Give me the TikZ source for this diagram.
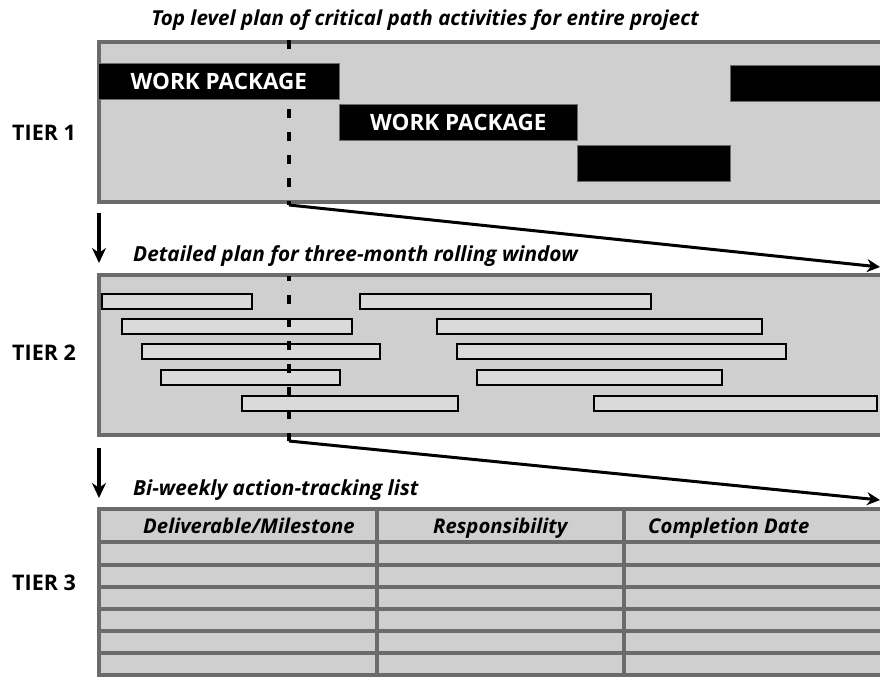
\documentclass[tikz,border=0pt]{standalone}
\usepackage{fontspec}
\setmainfont{Open Sans}
\usetikzlibrary{arrows.meta}
\definecolor{panel}{RGB}{207,207,207}
\definecolor{frame}{RGB}{107,107,107}
\definecolor{barfill}{RGB}{218,218,218}
\tikzset{
  panelbox/.style={fill=panel, draw=frame, line width=4pt},
  wp/.style={fill=black, draw=frame, line width=0.6pt},
  wptext/.style={text=white, font=\bfseries\fontsize{22.5}{22.5}\selectfont, inner sep=0pt},
  bar/.style={fill=barfill, draw=black, line width=2.6pt},
  tierlabel/.style={font=\bfseries\fontsize{21.5}{21.5}\selectfont, anchor=base west, inner sep=0pt},
  caption/.style={font=\bfseries\itshape\fontsize{20.8}{20.8}\selectfont, anchor=base west, inner sep=0pt},
  header/.style={font=\bfseries\itshape\fontsize{20.3}{20.3}\selectfont, anchor=base west, inner sep=0pt},
  cutline/.style={line width=4.5pt, dash pattern=on 9pt off 14pt},
  zoomarrow/.style={line width=3pt, -{Stealth[length=13pt, width=13pt]}},
  downarrow/.style={line width=3.2pt, -{Stealth[length=15pt, width=14pt]}},
  rowline/.style={draw=frame, line width=3.5pt},
}
\begin{document}
\begin{tikzpicture}[x=1pt, y=-1pt]
\useasboundingbox (0,0) rectangle (880,677);
\begin{scope}
\clip (0,0) rectangle (880,677);

% title
\node[font=\bfseries\itshape\fontsize{20.6}{20.6}\selectfont, inner sep=0pt, anchor=base] (title) at (425,26)
  {Top level plan of critical path activities for entire project};

% ---------- tier 1 ----------
\draw[panelbox] (99,42) rectangle (900,202);
% cut line runs behind the work packages
\coordinate (cut1top) at (289,40);
\coordinate (cut1bot) at (289,205);
\draw[cutline] (cut1top) -- (cut1bot);

\node[wp, minimum width=241pt, minimum height=36pt, anchor=north west] (wp1) at (98,63) {};
\node[wptext] at (wp1.center) {WORK PACKAGE};
\node[wp, minimum width=238pt, minimum height=36pt, anchor=north west] (wp2) at (339,104) {};
\node[wptext] at (wp2.center) {WORK PACKAGE};
\node[wp, minimum width=153pt, minimum height=36pt, anchor=north west] (wp3) at (577,145) {};
\node[wp, minimum width=170pt, minimum height=36pt, anchor=north west] (wp4) at (730,65) {};

\node[tierlabel] (t1) at (12,140) {TIER 1};

% ---------- tier 2 ----------
\coordinate (z1end) at (880,267);
\node[caption] (cap2) at (133,261) {Detailed plan for three-month rolling window};
\draw[panelbox] (99,274.5) rectangle (900,435);

\foreach \a/\b/\y in {102/252/294, 360/651/294,
                      122/352/319, 437/762/319,
                      142/380/344, 457/786/344,
                      161/340/370, 477/722/370,
                      242/458/396, 594/877/396}{
  \draw[bar] (\a,\y) rectangle (\b,\y+15);
}
\node[tierlabel] (t2) at (12,360) {TIER 2};

% cut line over the activity bars
\coordinate (cut2top) at (289,276);
\coordinate (cut2bot) at (289,441);
\draw[cutline, dash phase=4pt] (cut2top) -- (cut2bot);

% zoom arrows
\draw[zoomarrow] (cut1bot) -- (z1end);
\coordinate (z2end) at (880,500);
\draw[zoomarrow] (cut2bot) -- (z2end);

% down arrows between tiers
\coordinate (d1a) at (99,213);
\coordinate (d1b) at (99,263);
\draw[downarrow] (d1a) -- (d1b);
\coordinate (d2a) at (99,448);
\coordinate (d2b) at (99,498);
\draw[downarrow] (d2a) -- (d2b);

% ---------- tier 3 ----------
\node[caption] (cap3) at (133,495) {Bi-weekly action-tracking list};
\fill[panel] (99,509) rectangle (900,675);
\foreach \y in {542,565,587,609,631,653}{
  \draw[rowline] (99,\y) -- (900,\y);
}
\draw[rowline] (377,509) -- (377,675);
\draw[rowline] (624,509) -- (624,675);
\draw[draw=frame, line width=4pt] (99,509) rectangle (900,675);

\node[header] (h1) at (143,533) {Deliverable/Milestone};
\node[header] (h2) at (433,533) {Responsibility};
\node[header] (h3) at (648,533) {Completion Date};

\node[tierlabel] (t3) at (12,590) {TIER 3};
\end{scope}
\end{tikzpicture}
\end{document}
